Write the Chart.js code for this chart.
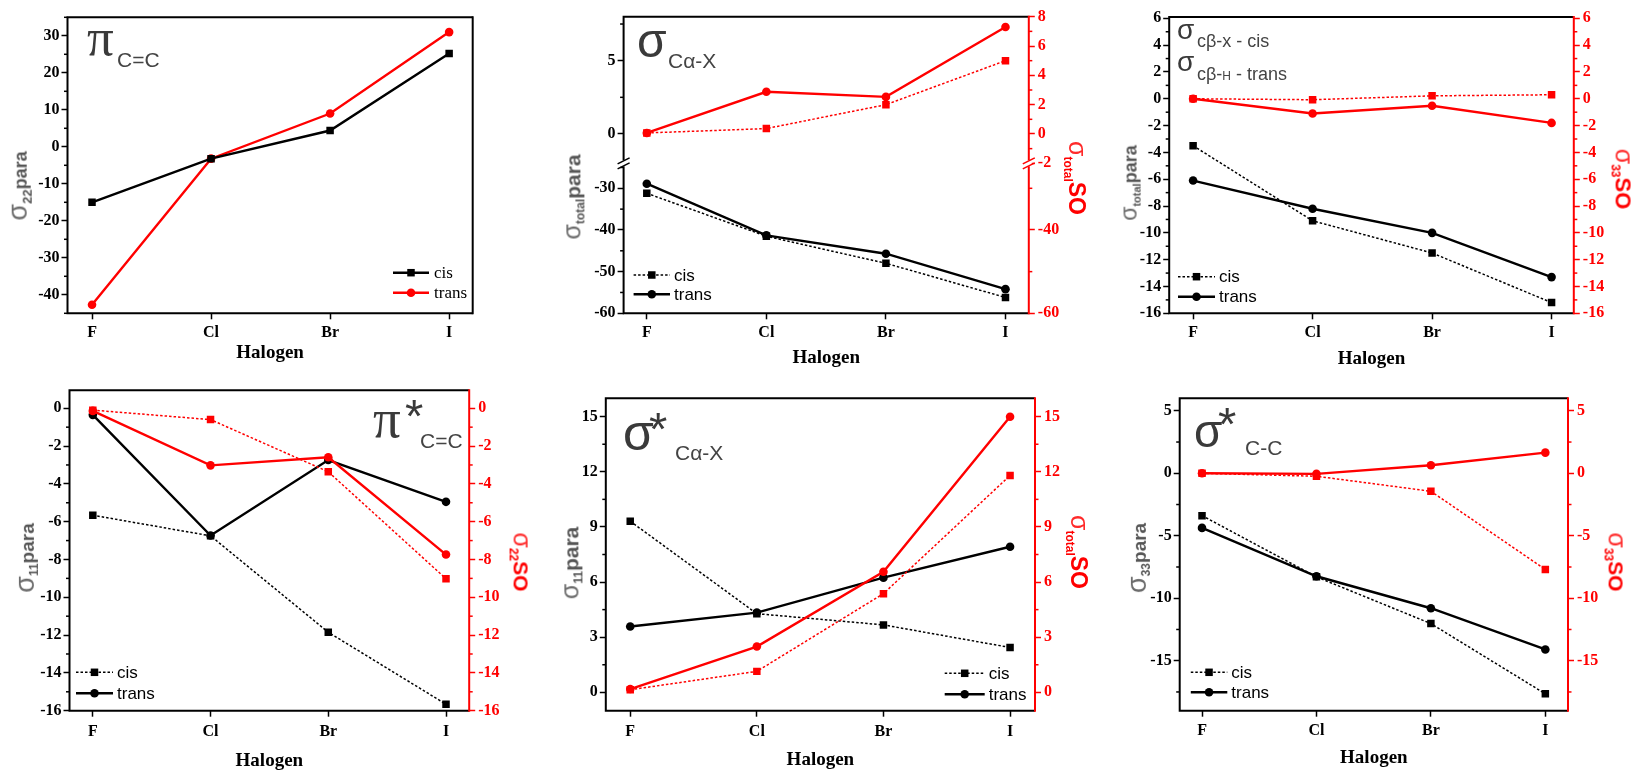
<!DOCTYPE html>
<html>
<head>
<meta charset="utf-8">
<script src="https://cdn.jsdelivr.net/npm/chart.js@4.4.1/dist/chart.umd.min.js"></script>
<style>
  body { margin: 0; background: #fff; }
  #fig { position: relative; width: 1635px; height: 771px; overflow: hidden; background: #fff; }
  .panel { position: absolute; }
  .panel canvas { position: absolute; left: 0; top: 0; }
  .yt {
    position: absolute; white-space: nowrap; line-height: 1;
    font-family: 'Liberation Sans', Arial, sans-serif;
    transform: translate(-50%, -50%) rotate(-90deg);
    color: #555;
  }
  .yt.r { transform: translate(-50%, -50%) rotate(90deg); color: #ff0000; }
  .yt .sg { font-weight: normal; color: #6a6a6a; }
  .yt.r .sg { color: #ff2a2a; }
  .yt .sb { font-weight: bold; vertical-align: -0.35em; }
  .yt b { font-weight: bold; }
  .tag { position: absolute; white-space: nowrap; line-height: 1; color: #3a3a3a;
         font-family: 'Liberation Sans', Arial, sans-serif; }
  .tag.serif { font-family: 'Liberation Serif', 'Times New Roman', serif; }
  .tag.sub { color: #444; }
</style>
</head>
<body>
<div id="fig">
  <div class="panel" style="left:0;top:0;width:545px;height:385px">
    <canvas id="cA" width="545" height="385"></canvas>
    <div class="yt" style="left:19px;top:186px"><span class="sg" style="font-size:27px">σ</span><span class="sb" style="font-size:13px">22</span><b style="font-size:18px">para</b></div>
    <div class="tag serif" style="left:87px;top:10.8px;font-size:53px">π</div>
    <div class="tag sub" style="left:117px;top:49.3px;font-size:21px">C=C</div>
  </div>

  <div class="panel" style="left:545px;top:0;width:545px;height:385px">
    <canvas id="cB" width="545" height="385"></canvas>
    <div class="yt" style="left:28px;top:197px"><span class="sg" style="font-size:25px">σ</span><span class="sb" style="font-size:12px">total</span><b style="font-size:21px">para</b></div>
    <div class="yt r" style="left:531px;top:178px"><span class="sg" style="font-size:25px">σ</span><span class="sb" style="font-size:12px">total</span><b style="font-size:23px">SO</b></div>
    <div class="tag" style="left:92px;top:16.5px;font-size:48px">σ</div>
    <div class="tag sub" style="left:123px;top:50.2px;font-size:21px">Cα-X</div>
  </div>

  <div class="panel" style="left:1090px;top:0;width:545px;height:385px">
    <canvas id="cC" width="545" height="385"></canvas>
    <div class="yt" style="left:40px;top:183px"><span class="sg" style="font-size:23px">σ</span><span class="sb" style="font-size:11px">total</span><b style="font-size:18px">para</b></div>
    <div class="yt r" style="left:533px;top:179px"><span class="sg" style="font-size:25px">σ</span><span class="sb" style="font-size:12px">33</span><b style="font-size:22px">SO</b></div>
    <div class="tag" style="left:87px;top:16.3px;font-size:28px">σ</div>
    <div class="tag sub" style="left:107px;top:31.8px;font-size:18px">cβ-x - cis</div>
    <div class="tag" style="left:87px;top:48.3px;font-size:28px">σ</div>
    <div class="tag sub" style="left:107px;top:64.8px;font-size:18px">cβ-<span style="font-size:12px">H</span> - trans</div>
  </div>

  <div class="panel" style="left:0;top:385px;width:545px;height:386px">
    <canvas id="cD" width="545" height="386"></canvas>
    <div class="yt" style="left:26px;top:173px"><span class="sg" style="font-size:27px">σ</span><span class="sb" style="font-size:12px">11</span><b style="font-size:19px">para</b></div>
    <div class="yt r" style="left:521px;top:177px"><span class="sg" style="font-size:25px">σ</span><span class="sb" style="font-size:12px">22</span><b style="font-size:21px">SO</b></div>
    <div class="tag serif" style="left:373px;top:5.5px;font-size:55px">π</div>
    <div class="tag" style="left:405px;top:7.3px;font-size:47px">*</div>
    <div class="tag sub" style="left:420px;top:45.2px;font-size:21px">C=C</div>
  </div>

  <div class="panel" style="left:545px;top:385px;width:545px;height:386px">
    <canvas id="cE" width="545" height="386"></canvas>
    <div class="yt" style="left:26px;top:178px"><span class="sg" style="font-size:25px">σ</span><span class="sb" style="font-size:12px">11</span><b style="font-size:21px">para</b></div>
    <div class="yt r" style="left:533px;top:167px"><span class="sg" style="font-size:25px">σ</span><span class="sb" style="font-size:12px">total</span><b style="font-size:23px">SO</b></div>
    <div class="tag" style="left:78px;top:22.7px;font-size:50px">σ</div>
    <div class="tag" style="left:104px;top:20.3px;font-size:47px">*</div>
    <div class="tag sub" style="left:130px;top:57.2px;font-size:21px">Cα-X</div>
  </div>

  <div class="panel" style="left:1090px;top:385px;width:545px;height:386px">
    <canvas id="cF" width="545" height="386"></canvas>
    <div class="yt" style="left:48px;top:173px"><span class="sg" style="font-size:27px">σ</span><span class="sb" style="font-size:12px">33</span><b style="font-size:19px">para</b></div>
    <div class="yt r" style="left:526px;top:177px"><span class="sg" style="font-size:25px">σ</span><span class="sb" style="font-size:12px">33</span><b style="font-size:21px">SO</b></div>
    <div class="tag" style="left:104px;top:23.1px;font-size:46px">σ</div>
    <div class="tag" style="left:128px;top:15.3px;font-size:47px">*</div>
    <div class="tag sub" style="left:155px;top:52.2px;font-size:21px">C-C</div>
  </div>
</div>

<script>
const halogens = ['F', 'Cl', 'Br', 'I'];

// π C=C  (σ22 para)
const piCC_cis = [-15.0, -3.2, 4.4, 25.2];
const piCC_trans = [-42.7, -3.2, 9.0, 31.0];

// σ Cα-X  (σtotal para, σtotal SO)
const sCaX_para_cis = [-31.2, -41.5, -48.0, -56.2];
const sCaX_para_trans = [-28.9, -41.3, -45.7, -54.2];
const sCaX_so_cis = [0.07, 0.37, 2.0, 5.0];
const sCaX_so_trans = [0.07, 2.88, 2.53, 7.3];

// σ Cβ-X cis / Cβ-H trans  (σtotal para, σ33 SO)
const sCb_para_cis = [-3.5, -9.1, -11.5, -15.2];
const sCb_para_trans = [-6.1, -8.2, -10.0, -13.3];
const sCb_so_cis = [0.0, -0.07, 0.22, 0.3];
const sCb_so_trans = [0.0, -1.1, -0.52, -1.8];

// π* C=C  (σ11 para, σ22 SO)
const piStar_para_cis = [-5.66, -6.75, -11.85, -15.66];
const piStar_para_trans = [-0.35, -6.73, -2.74, -4.95];
const piStar_so_cis = [-0.1, -0.6, -3.36, -9.02];
const piStar_so_trans = [-0.14, -3.02, -2.59, -7.74];

// σ* Cα-X  (σ11 para, σtotal SO)
const sStarCaX_para_cis = [9.31, 4.28, 3.67, 2.44];
const sStarCaX_para_trans = [3.58, 4.34, 6.24, 7.92];
const sStarCaX_so_cis = [0.14, 1.14, 5.37, 11.8];
const sStarCaX_so_trans = [0.18, 2.49, 6.56, 15.0];

// σ* C-C  (σ33 para, σ33 SO)
const sStarCC_para_cis = [-3.39, -8.29, -12.03, -17.65];
const sStarCC_para_trans = [-4.37, -8.24, -10.8, -14.1];
const sStarCC_so_cis = [0.0, -0.24, -1.44, -7.7];
const sStarCC_so_trans = [0.0, -0.05, 0.64, 1.65];

// tick labels
const ticksA = [-40, -30, -20, -10, 0, 10, 20, 30];
const ticksB_top = [0, 5];
const ticksB_bot = [-30, -40, -50, -60];
const ticksB_topR = [-2, 0, 2, 4, 6, 8];
const ticksB_botR = [-40, -60];
const ticksC = [-16, -14, -12, -10, -8, -6, -4, -2, 0, 2, 4, 6];
const ticksD = [-16, -14, -12, -10, -8, -6, -4, -2, 0];
const ticksE = [0, 3, 6, 9, 12, 15];
const ticksF = [-15, -10, -5, 0, 5];

const RED = '#ff0000';
const serif = "'Liberation Serif', 'Times New Roman', serif";
const sans = "'Liberation Sans', Arial, sans-serif";

const pts = values => values.map((v, i) => ({x: i, y: v}));

function series(label, values, axis, color, dotted, marker) {
    return {
        label,
        data: pts(values),
        yAxisID: axis,
        borderColor: color,
        backgroundColor: color,
        borderWidth: dotted ? 1.5 : 2.4,
        borderDash: dotted ? [2.5, 2] : [],
        pointStyle: marker,
        pointRadius: marker === 'rect' ? 5.3 : 4.3,
        pointBorderWidth: 0,
        tension: 0
    };
}

function yAxis(pos, min, max, ticks, width, color, extra) {
    return Object.assign({
        type: 'linear',
        position: pos,
        min, max,
        afterBuildTicks: ax => { ax.ticks = ticks.map(v => ({value: v})); },
        afterFit: ax => { ax.width = width; ax.paddingTop = 0; ax.paddingBottom = 0; },
        ticks: {color, font: {family: serif, size: 16, weight: 'bold'}, padding: pos === 'left' ? 2 : 3, autoSkip: false},
        grid: {drawOnChartArea: false, tickLength: 6, tickWidth: 1.5, tickColor: color},
        border: {display: false}
    }, extra || {});
}

function xAxis(min, max, height, labelPad, titlePad) {
    return {
        type: 'linear',
        min, max,
        afterBuildTicks: ax => { ax.ticks = halogens.map((h, i) => ({value: i})); },
        afterFit: ax => { ax.height = height; ax.paddingLeft = 0; ax.paddingRight = 0; },
        ticks: {
            color: '#000', font: {family: serif, size: 16, weight: 'bold'},
            padding: labelPad, maxRotation: 0, autoSkip: false,
            callback: v => halogens[v]
        },
        grid: {drawOnChartArea: false, tickLength: 6, tickWidth: 1.5, tickColor: '#000'},
        border: {display: false},
        title: {
            display: true, text: 'Halogen', color: '#000',
            font: {family: serif, size: 19, weight: 'bold', lineHeight: 1},
            padding: {top: 0, bottom: titlePad}
        }
    };
}

// frame, minor ticks, axis break and the in-plot legend
const originFrame = {
    id: 'originFrame',
    afterDraw(chart, args, o) {
        const {ctx, chartArea: a} = chart;
        ctx.save();

        Object.values(chart.scales).forEach(s => {
            if (s.axis !== 'y') return;
            const vals = s.ticks.map(t => t.value);
            if (vals.length < 2) return;
            const half = Math.abs(vals[1] - vals[0]) / 2;
            const x0 = s.position === 'left' ? s.right : s.left;
            const dir = s.position === 'left' ? -1 : 1;
            ctx.strokeStyle = s.options.grid.tickColor;
            ctx.lineWidth = 1.5;
            let v = vals[0];
            while (v - half >= s.min - 1e-9) v -= half;
            for (; v <= s.max + 1e-9; v += half) {
                if (vals.some(m => Math.abs(m - v) < 1e-6)) continue;
                const y = s.getPixelForValue(v);
                ctx.beginPath();
                ctx.moveTo(x0, y);
                ctx.lineTo(x0 + dir * 3.5, y);
                ctx.stroke();
            }
        });

        ctx.lineWidth = 2;
        ctx.strokeStyle = '#000';
        ctx.beginPath();
        ctx.moveTo(a.right, a.top);
        ctx.lineTo(a.left, a.top);
        ctx.lineTo(a.left, a.bottom);
        ctx.lineTo(a.right, a.bottom);
        ctx.stroke();
        ctx.strokeStyle = o.rightColor || '#000';
        ctx.beginPath();
        ctx.moveTo(a.right, a.top - 1);
        ctx.lineTo(a.right, a.bottom + 1);
        ctx.stroke();

        if (o.breakAxis) {
            const y = chart.scales[o.breakAxis].bottom;
            [[a.left, '#000'], [a.right, o.rightColor]].forEach(([x, c]) => {
                ctx.fillStyle = '#fff';
                ctx.fillRect(x - 3, y - 3, 6, 6);
                ctx.strokeStyle = c;
                ctx.lineWidth = 1.5;
                [-2.5, 2.5].forEach(d => {
                    ctx.beginPath();
                    ctx.moveTo(x - 6, y + d + 3);
                    ctx.lineTo(x + 6, y + d - 3);
                    ctx.stroke();
                });
            });
        }

        if (o.legend) {
            const L = o.legend;
            L.items.forEach((di, k) => {
                const ds = chart.data.datasets[di];
                const y = L.y + k * L.dy;
                ctx.strokeStyle = ds.borderColor;
                ctx.lineWidth = ds.borderWidth;
                ctx.setLineDash(ds.borderDash);
                ctx.beginPath();
                ctx.moveTo(L.x, y);
                ctx.lineTo(L.x + L.len, y);
                ctx.stroke();
                ctx.setLineDash([]);
                const cx = L.x + L.len / 2;
                ctx.fillStyle = ds.backgroundColor;
                if (ds.pointStyle === 'rect') {
                    const h = ds.pointRadius * Math.SQRT1_2;
                    ctx.fillRect(cx - h, y - h, 2 * h, 2 * h);
                } else {
                    ctx.beginPath();
                    ctx.arc(cx, y, ds.pointRadius, 0, Math.PI * 2);
                    ctx.fill();
                }
                ctx.fillStyle = '#000';
                ctx.font = L.font;
                ctx.textBaseline = 'middle';
                ctx.fillText(ds.label, L.x + L.len + L.gap, y + 1);
            });
        }
        ctx.restore();
    }
};

function makeChart(id, top, datasets, scales, frame, padRight) {
    return new Chart(document.getElementById(id), {
        type: 'line',
        data: {datasets},
        options: {
            responsive: false,
            animation: false,
            events: [],
            layout: {padding: {top, left: 0, right: padRight || 0, bottom: 0}},
            plugins: {legend: {display: false}, tooltip: {enabled: false}, originFrame: frame},
            scales
        },
        plugins: [originFrame]
    });
}

const sansLegend = '17px ' + sans;

// π C=C
makeChart('cA', 17.3, [
    series('cis', piCC_cis, 'y', '#000', false, 'rect'),
    series('trans', piCC_trans, 'y', RED, false, 'circle')
], {
    x: xAxis(-0.206, 3.198, 385 - 313.3, 3.5, 22.2),
    y: yAxis('left', -45, 35, ticksA, 67.5, '#000')
}, {rightColor: '#000', legend: {x: 393, y: 272.7, dy: 20, len: 36, gap: 5, items: [0, 1], font: '17px ' + serif}},
545 - 472.7);

// σ Cα-X, broken axis
makeChart('cB', 16.7, [
    series('cis', sCaX_so_cis, 'yTopR', RED, true, 'rect'),
    series('trans', sCaX_so_trans, 'yTopR', RED, false, 'circle'),
    series('cis', sCaX_para_cis, 'yBot', '#000', true, 'rect'),
    series('trans', sCaX_para_trans, 'yBot', '#000', false, 'circle')
], {
    x: xAxis(-0.194, 3.195, 385 - 313.3, 3.5, 17.2),
    yTop: yAxis('left', -2, 8, ticksB_top, 78.6, '#000', {stack: 'L', stackWeight: 146.6, weight: 2}),
    yBot: yAxis('left', -60, -24, ticksB_bot, 78.6, '#000', {stack: 'L', stackWeight: 150, weight: 1}),
    yTopR: yAxis('right', -2, 8, ticksB_topR, 545 - 483.8, RED, {stack: 'R', stackWeight: 146.6, weight: 1}),
    yBotR: yAxis('right', -60, -24, ticksB_botR, 545 - 483.8, RED, {stack: 'R', stackWeight: 150, weight: 2})
}, {rightColor: RED, breakAxis: 'yTop', legend: {x: 88.6, y: 275, dy: 19.3, len: 36.4, gap: 4, items: [2, 3], font: sansLegend}});

// σ Cβ-X cis / Cβ-H trans
makeChart('cC', 17, [
    series('cis', sCb_so_cis, 'y2', RED, true, 'rect'),
    series('trans', sCb_so_trans, 'y2', RED, false, 'circle'),
    series('cis', sCb_para_cis, 'y', '#000', true, 'rect'),
    series('trans', sCb_para_trans, 'y', '#000', false, 'circle')
], {
    x: xAxis(-0.2, 3.186, 385 - 313.3, 3.5, 16.2),
    y: yAxis('left', -16, 6.1, ticksC, 79.2, '#000'),
    y2: yAxis('right', -16, 6.1, ticksC, 545 - 483.8, RED)
}, {rightColor: RED, legend: {x: 88, y: 276.7, dy: 20, len: 37, gap: 4, items: [2, 3], font: sansLegend}});

// π* C=C
makeChart('cD', 2.7, [
    series('cis', piStar_so_cis, 'y2', RED, true, 'rect'),
    series('trans', piStar_so_trans, 'y2', RED, false, 'circle'),
    series('cis', piStar_para_cis, 'y', '#000', true, 'rect'),
    series('trans', piStar_para_trans, 'y', '#000', false, 'circle')
], {
    x: xAxis(-0.198, 3.197, 386 - 325.7, 5.5, 0),
    y: yAxis('left', -16, 0.95, ticksD, 69.5, '#000'),
    y2: yAxis('right', -16, 0.95, ticksD, 545 - 469.2, RED)
}, {rightColor: RED, legend: {x: 76, y: 287.3, dy: 21, len: 37, gap: 4, items: [2, 3], font: sansLegend}});

// σ* Cα-X
makeChart('cE', 13.3, [
    series('cis', sStarCaX_so_cis, 'y2', RED, true, 'rect'),
    series('trans', sStarCaX_so_trans, 'y2', RED, false, 'circle'),
    series('cis', sStarCaX_para_cis, 'y', '#000', true, 'rect'),
    series('trans', sStarCaX_para_trans, 'y', '#000', false, 'circle')
], {
    x: xAxis(-0.193, 3.197, 386 - 325.7, 5.5, 1.5),
    y: yAxis('left', -1, 16, ticksE, 60.8, '#000'),
    y2: yAxis('right', -1, 16, ticksE, 545 - 490, RED)
}, {rightColor: RED, legend: {x: 399.7, y: 288.3, dy: 21, len: 40, gap: 4, items: [2, 3], font: sansLegend}});

// σ* C-C
makeChart('cF', 13.3, [
    series('cis', sStarCC_so_cis, 'y2', RED, true, 'rect'),
    series('trans', sStarCC_so_trans, 'y2', RED, false, 'circle'),
    series('cis', sStarCC_para_cis, 'y', '#000', true, 'rect'),
    series('trans', sStarCC_para_trans, 'y', '#000', false, 'circle')
], {
    x: xAxis(-0.195, 3.198, 386 - 325.7, 4.5, 3.2),
    y: yAxis('left', -19, 6, ticksF, 89.7, '#000'),
    y2: yAxis('right', -19, 6, ticksF, 545 - 478, RED)
}, {rightColor: RED, legend: {x: 100.8, y: 287.3, dy: 20, len: 36.5, gap: 4, items: [2, 3], font: sansLegend}});
</script>
</body>
</html>
